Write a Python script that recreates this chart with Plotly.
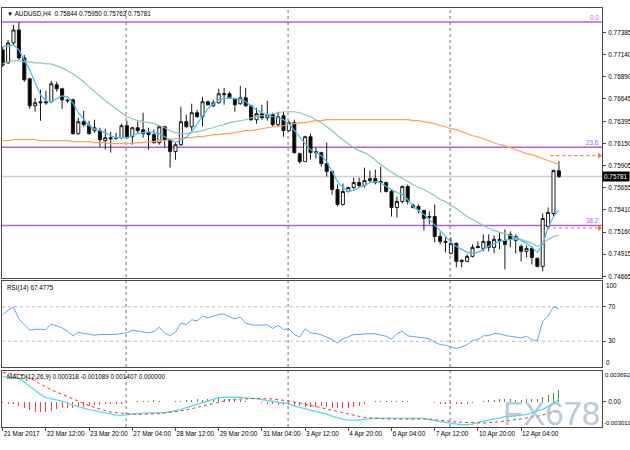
import plotly.graph_objects as go

# ---------------- data ----------------
symbol = "AUDUSD,H4"
bars = list(range(104))

opens = [0.77189, 0.77045, 0.77267, 0.77411, 0.77100, 0.76867, 0.76567, 0.76612, 0.76612, 0.76612,
         0.76801, 0.76756, 0.76630, 0.76634, 0.76257, 0.76390, 0.76345, 0.76290, 0.76290, 0.76179,
         0.76212, 0.76212, 0.76212, 0.76345, 0.76223, 0.76323, 0.76301, 0.76268, 0.76246, 0.76157,
         0.76334, 0.76190, 0.76057, 0.76134, 0.76390, 0.76334, 0.76490, 0.76445, 0.76612, 0.76567,
         0.76601, 0.76690, 0.76701, 0.76645, 0.76590, 0.76656, 0.76567, 0.76412, 0.76479, 0.76434,
         0.76468, 0.76357, 0.76456, 0.76290, 0.76379, 0.76035, 0.75946, 0.76223, 0.76057, 0.76046,
         0.75924, 0.75835, 0.75635, 0.75469, 0.75613, 0.75657, 0.75713, 0.75679, 0.75735, 0.75757,
         0.75724, 0.75713, 0.75613, 0.75435, 0.75502, 0.75668, 0.75457, 0.75446, 0.75402, 0.75324,
         0.75335, 0.75113, 0.75058, 0.74925, 0.75036, 0.74847, 0.74836, 0.74891, 0.75002, 0.74980,
         0.75058, 0.74991, 0.75080, 0.75069, 0.75136, 0.75069, 0.75002, 0.74947, 0.74980, 0.74869,
         0.74780, 0.75224, 0.75369, 0.75844]
highs = [0.77222, 0.77300, 0.77467, 0.77500, 0.77134, 0.76878, 0.76656, 0.76745, 0.76734, 0.76845,
         0.76834, 0.76767, 0.76645, 0.76645, 0.76434, 0.76512, 0.76401, 0.76412, 0.76323, 0.76312,
         0.76279, 0.76268, 0.76368, 0.76401, 0.76334, 0.76390, 0.76490, 0.76323, 0.76301, 0.76345,
         0.76345, 0.76201, 0.76157, 0.76556, 0.76468, 0.76590, 0.76523, 0.76667, 0.76623, 0.76634,
         0.76756, 0.76767, 0.76723, 0.76656, 0.76789, 0.76767, 0.76579, 0.76545, 0.76579, 0.76623,
         0.76490, 0.76501, 0.76501, 0.76401, 0.76412, 0.76046, 0.76234, 0.76257, 0.76101, 0.76057,
         0.76157, 0.75846, 0.75691, 0.75702, 0.75668, 0.75768, 0.75768, 0.75879, 0.75846, 0.75857,
         0.75890, 0.75724, 0.75635, 0.75557, 0.75679, 0.75691, 0.75480, 0.75469, 0.75413, 0.75391,
         0.75469, 0.75158, 0.75102, 0.75102, 0.75047, 0.74858, 0.74914, 0.75025, 0.75058, 0.75136,
         0.75136, 0.75124, 0.75158, 0.75191, 0.75169, 0.75136, 0.75025, 0.75013, 0.75002, 0.74880,
         0.75369, 0.75435, 0.75857, 0.75950]
lows = [0.77000, 0.77034, 0.77245, 0.77078, 0.76834, 0.76534, 0.76501, 0.76401, 0.76579, 0.76601,
        0.76723, 0.76534, 0.76601, 0.76246, 0.76246, 0.76334, 0.76246, 0.76268, 0.76112, 0.76079,
        0.76046, 0.76190, 0.76201, 0.76201, 0.76134, 0.76257, 0.76212, 0.76079, 0.76146, 0.76134,
        0.76101, 0.75879, 0.75968, 0.76123, 0.76323, 0.76290, 0.76434, 0.76334, 0.76567, 0.76556,
        0.76590, 0.76579, 0.76645, 0.76501, 0.76579, 0.76556, 0.76401, 0.76368, 0.76412, 0.76401,
        0.76334, 0.76334, 0.76223, 0.76279, 0.76035, 0.75924, 0.75946, 0.75968, 0.75979, 0.75890,
        0.75779, 0.75580, 0.75446, 0.75457, 0.75602, 0.75635, 0.75657, 0.75657, 0.75713, 0.75691,
        0.75602, 0.75602, 0.75335, 0.75324, 0.75480, 0.75469, 0.75424, 0.75369, 0.75180, 0.75247,
        0.75047, 0.75025, 0.74936, 0.74914, 0.74769, 0.74769, 0.74825, 0.74880, 0.74980, 0.74947,
        0.74947, 0.74925, 0.74969, 0.74747, 0.74991, 0.74925, 0.74836, 0.74880, 0.74803, 0.74769,
        0.74725, 0.75191, 0.75335, 0.75763]
closes = [0.77022, 0.77267, 0.77411, 0.77100, 0.76856, 0.76567, 0.76601, 0.76601, 0.76601, 0.76812,
          0.76756, 0.76634, 0.76623, 0.76257, 0.76390, 0.76357, 0.76257, 0.76323, 0.76190, 0.76212,
          0.76201, 0.76206, 0.76345, 0.76212, 0.76323, 0.76290, 0.76257, 0.76246, 0.76157, 0.76334,
          0.76190, 0.76057, 0.76134, 0.76390, 0.76334, 0.76490, 0.76445, 0.76612, 0.76579, 0.76601,
          0.76701, 0.76701, 0.76656, 0.76579, 0.76656, 0.76567, 0.76412, 0.76479, 0.76434, 0.76468,
          0.76357, 0.76445, 0.76290, 0.76379, 0.76046, 0.75946, 0.76223, 0.76046, 0.76046, 0.75924,
          0.75835, 0.75635, 0.75469, 0.75613, 0.75657, 0.75713, 0.75679, 0.75735, 0.75757, 0.75713,
          0.75713, 0.75613, 0.75435, 0.75502, 0.75668, 0.75502, 0.75435, 0.75413, 0.75313, 0.75335,
          0.75113, 0.75058, 0.75047, 0.75036, 0.74836, 0.74836, 0.74891, 0.74991, 0.74991, 0.75058,
          0.74991, 0.75080, 0.75069, 0.75025, 0.75080, 0.75113, 0.74947, 0.74980, 0.74880, 0.74780,
          0.75313, 0.75380, 0.75846, 0.75781]

ma_fast = [0.77222, 0.77233, 0.77245, 0.77189, 0.77078, 0.76967, 0.76823, 0.76690, 0.76623, 0.76612,
           0.76645, 0.76678, 0.76667, 0.76601, 0.76490, 0.76412, 0.76345, 0.76312, 0.76290, 0.76268,
           0.76234, 0.76212, 0.76212, 0.76212, 0.76234, 0.76257, 0.76268, 0.76279, 0.76268, 0.76257,
           0.76223, 0.76190, 0.76157, 0.76190, 0.76212, 0.76279, 0.76368, 0.76445, 0.76534, 0.76590,
           0.76634, 0.76645, 0.76656, 0.76645, 0.76645, 0.76612, 0.76567, 0.76523, 0.76490, 0.76468,
           0.76445, 0.76434, 0.76412, 0.76368, 0.76290, 0.76212, 0.76146, 0.76079, 0.76046, 0.76012,
           0.75946, 0.75835, 0.75724, 0.75657, 0.75613, 0.75624, 0.75657, 0.75679, 0.75713, 0.75724,
           0.75713, 0.75668, 0.75635, 0.75602, 0.75580, 0.75524, 0.75446, 0.75402, 0.75358, 0.75302,
           0.75235, 0.75169, 0.75113, 0.75047, 0.75002, 0.74969, 0.74936, 0.74925, 0.74936, 0.74969,
           0.75002, 0.75036, 0.75058, 0.75069, 0.75080, 0.75091, 0.75069, 0.75036, 0.74991, 0.74936,
           0.75025, 0.75213, 0.75335, 0.75402]
ma_mid = [0.77034, 0.77056, 0.77067, 0.77067, 0.77056, 0.77056, 0.77045, 0.77045, 0.77034, 0.77034,
          0.77011, 0.76989, 0.76956, 0.76923, 0.76878, 0.76834, 0.76778, 0.76723, 0.76667, 0.76623,
          0.76579, 0.76534, 0.76490, 0.76445, 0.76423, 0.76401, 0.76390, 0.76379, 0.76368, 0.76345,
          0.76323, 0.76290, 0.76268, 0.76257, 0.76257, 0.76268, 0.76279, 0.76290, 0.76312, 0.76323,
          0.76345, 0.76357, 0.76379, 0.76390, 0.76401, 0.76412, 0.76434, 0.76445, 0.76456, 0.76468,
          0.76479, 0.76490, 0.76501, 0.76501, 0.76501, 0.76490, 0.76468, 0.76445, 0.76412, 0.76379,
          0.76334, 0.76290, 0.76234, 0.76190, 0.76146, 0.76101, 0.76068, 0.76046, 0.76012, 0.75957,
          0.75913, 0.75868, 0.75824, 0.75790, 0.75757, 0.75724, 0.75691, 0.75657, 0.75635, 0.75602,
          0.75568, 0.75524, 0.75502, 0.75457, 0.75424, 0.75380, 0.75335, 0.75302, 0.75269, 0.75235,
          0.75202, 0.75180, 0.75158, 0.75147, 0.75124, 0.75102, 0.75080, 0.75058, 0.75036, 0.75002,
          0.75036, 0.75080, 0.75113, 0.75124]
ma_slow = [0.76179, 0.76179, 0.76190, 0.76190, 0.76190, 0.76190, 0.76190, 0.76179, 0.76179, 0.76179,
           0.76179, 0.76179, 0.76179, 0.76168, 0.76168, 0.76168, 0.76168, 0.76157, 0.76157, 0.76157,
           0.76146, 0.76146, 0.76146, 0.76146, 0.76146, 0.76157, 0.76157, 0.76168, 0.76168, 0.76179,
           0.76179, 0.76190, 0.76201, 0.76201, 0.76212, 0.76212, 0.76223, 0.76223, 0.76234, 0.76246,
           0.76246, 0.76257, 0.76257, 0.76268, 0.76279, 0.76290, 0.76290, 0.76301, 0.76312, 0.76323,
           0.76334, 0.76334, 0.76345, 0.76357, 0.76368, 0.76379, 0.76379, 0.76390, 0.76401, 0.76401,
           0.76412, 0.76412, 0.76412, 0.76412, 0.76412, 0.76412, 0.76412, 0.76412, 0.76412, 0.76412,
           0.76412, 0.76412, 0.76412, 0.76412, 0.76412, 0.76412, 0.76401, 0.76401, 0.76390, 0.76379,
           0.76368, 0.76345, 0.76334, 0.76312, 0.76301, 0.76279, 0.76257, 0.76234, 0.76223, 0.76201,
           0.76179, 0.76157, 0.76134, 0.76123, 0.76101, 0.76079, 0.76057, 0.76035, 0.76024, 0.76001,
           0.75979, 0.75957, 0.75935, 0.75913]

rsi = [61, 66, 69.6, 56, 49.4, 42.8, 44, 44, 43.6, 50,
       47.5, 45.5, 41.7, 36.2, 40.5, 38.9, 38.2, 37, 37.8, 37.8,
       37.8, 37.8, 39, 39.7, 42.8, 41.7, 40.9, 39.7, 41.3, 46.3,
       39.3, 36.6, 40.5, 51, 49.4, 54.9, 53.7, 59.1, 57.2, 59.1,
       61, 61.8, 58.4, 56, 58, 51, 49, 48.6, 48.6, 49,
       44.8, 48.6, 43.6, 44.4, 37.8, 34.7, 44.4, 39.7, 38.9, 37.4,
       34.7, 31.9, 28, 33, 35, 37.8, 37.8, 38.6, 38.9, 38.6,
       37, 35.8, 32.3, 38.6, 41.7, 36.2, 35.4, 35, 33.9, 32.7,
       28.8, 26.1, 25.3, 23.4, 21.5, 23.4, 26.1, 30.8, 31.9, 36.2,
       36.6, 38.9, 38.6, 36.6, 35.8, 35.4, 33.9, 35.8, 31.9, 30.5,
       53.3, 59, 70.4, 67.4775]

macd_main = [0.00301, 0.00297, 0.00293, 0.00281, 0.00237, 0.00185, 0.00133, 0.00089, 0.00050, 0.00038,
             0.00026, 0.00010, -0.00014, -0.00042, -0.00058, -0.00078, -0.00094, -0.00106, -0.00118, -0.00134,
             -0.00150, -0.00158, -0.00162, -0.00158, -0.00150, -0.00142, -0.00134, -0.00130, -0.00126, -0.00130,
             -0.00130, -0.00122, -0.00106, -0.00090, -0.00070, -0.00054, -0.00034, -0.00018, 0.00002, 0.00026,
             0.00050, 0.00054, 0.00058, 0.00054, 0.00054, 0.00050, 0.00046, 0.00038, 0.00026, 0.00014,
             0.00006, -0.00006, -0.00014, -0.00022, -0.00050, -0.00066, -0.00082, -0.00098, -0.00110, -0.00122,
             -0.00146, -0.00170, -0.00190, -0.00206, -0.00218, -0.00222, -0.00218, -0.00210, -0.00198, -0.00194,
             -0.00194, -0.00194, -0.00194, -0.00194, -0.00194, -0.00194, -0.00194, -0.00198, -0.00198, -0.00210,
             -0.00226, -0.00238, -0.00246, -0.00258, -0.00266, -0.00274, -0.00274, -0.00266, -0.00246, -0.00230,
             -0.00218, -0.00206, -0.00194, -0.00178, -0.00174, -0.00170, -0.00162, -0.00150, -0.00130, -0.00114,
             -0.00090, -0.00058, -0.00014, 0.000318]
macd_signal = [0.00349, 0.00345, 0.00337, 0.00329, 0.00309, 0.00285, 0.00253, 0.00213, 0.00177, 0.00145,
               0.00117, 0.00089, 0.00058, 0.00030, 0.00002, -0.00022, -0.00046, -0.00066, -0.00086, -0.00106,
               -0.00122, -0.00130, -0.00138, -0.00142, -0.00146, -0.00150, -0.00150, -0.00146, -0.00146, -0.00142,
               -0.00134, -0.00126, -0.00118, -0.00106, -0.00098, -0.00082, -0.00066, -0.00046, -0.00030, -0.00014,
               0.00002, 0.00014, 0.00026, 0.00030, 0.00034, 0.00038, 0.00042, 0.00042, 0.00038, 0.00038,
               0.00034, 0.00026, 0.00022, 0.00010, -0.00002, -0.00014, -0.00026, -0.00042, -0.00054, -0.00070,
               -0.00086, -0.00102, -0.00118, -0.00134, -0.00150, -0.00162, -0.00174, -0.00186, -0.00194, -0.00202,
               -0.00202, -0.00206, -0.00206, -0.00206, -0.00202, -0.00202, -0.00198, -0.00198, -0.00202, -0.00206,
               -0.00214, -0.00218, -0.00226, -0.00234, -0.00242, -0.00246, -0.00250, -0.00254, -0.00254, -0.00254,
               -0.00250, -0.00246, -0.00238, -0.00230, -0.00222, -0.00214, -0.00206, -0.00198, -0.00186, -0.00174,
               -0.00158, -0.00142, -0.00126, -0.001089]
macd_hist = [-0.00012, -0.00020, -0.00030, -0.00045, -0.00072, -0.00100, -0.00120, -0.00124, -0.00127, -0.00107,
             -0.00091, -0.00079, -0.00072, -0.00072, -0.00060, -0.00056, -0.00048, -0.00040, -0.00032, -0.00028,
             -0.00028, -0.00028, -0.00024, -0.00016, -0.00004, 0.00008, 0.00016, 0.00016, 0.00020, 0.00012,
             0.00004, 0.00004, 0.00012, 0.00016, 0.00028, 0.00028, 0.00032, 0.00028, 0.00032, 0.00040,
             0.00048, 0.00040, 0.00032, 0.00024, 0.00020, 0.00012, 0.00004, -0.00004, -0.00012, -0.00024,
             -0.00028, -0.00032, -0.00036, -0.00032, -0.00048, -0.00052, -0.00056, -0.00056, -0.00056, -0.00052,
             -0.00060, -0.00068, -0.00072, -0.00072, -0.00068, -0.00060, -0.00044, -0.00024, -0.00004, 0.00008,
             0.00008, 0.00012, 0.00012, 0.00012, 0.00008, 0.00008, 0.00004, 0.00000, 0.00004, -0.00004,
             -0.00012, -0.00020, -0.00020, -0.00024, -0.00024, -0.00028, -0.00024, -0.00012, 0.00004, 0.00012,
             0.00020, 0.00028, 0.00032, 0.00032, 0.00032, 0.00028, 0.00028, 0.00032, 0.00036, 0.00040,
             0.00060, 0.00084, 0.00110, 0.001407]
macd_extra = 0.0

fib_levels = [0.77500, 0.76105, 0.75235]
fib_labels = ["0.0", "23.6", "38.2"]
fib_marks = [0.76012, 0.75207]      # dotted arrow price marks
fib_mark_start = [101.4, 100.8]

price_ticks = [0.77385, 0.77140, 0.76890, 0.76645, 0.76395, 0.76150,
               0.75905, 0.75655, 0.75410, 0.75160, 0.74915, 0.74665]
rsi_levels = [70, 30]
rsi_edges = [100, 0]
macd_edges = [0.003692, -0.003011]

time_tick_bars = [0, 8, 16, 24, 32, 40, 48, 56, 64, 72, 80, 88, 96]
time_tick_labels = ["21 Mar 2017", "22 Mar 12:00", "23 Mar 20:00", "27 Mar 04:00", "28 Mar 12:00",
                    "29 Mar 20:00", "31 Mar 04:00", "3 Apr 12:00", "4 Apr 20:00", "6 Apr 04:00",
                    "7 Apr 12:00", "10 Apr 20:00", "12 Apr 04:00"]
week_separators = [23, 53, 83]

# ---------------- layout geometry (pixels -> paper) ----------------
W, H = 630, 450
def px_x(x):
    return x / W
def px_y(y):
    return 1 - y / H

XDOM = [px_x(2), px_x(602)]
XRANGE = [-0.13, 110.98]
FONT = "Liberation Sans, Arial, sans-serif"
AXC = "#4a4a4a"

fig = go.Figure()

fig.add_trace(go.Candlestick(
    x=bars, open=opens, high=highs, low=lows, close=closes,
    xaxis="x", yaxis="y", whiskerwidth=0,
    increasing=dict(line=dict(color="#1a1a1a", width=1), fillcolor="#ffffff"),
    decreasing=dict(line=dict(color="#1a1a1a", width=1), fillcolor="#000000"),
    showlegend=False, hoverinfo="skip"))

fig.add_trace(go.Scatter(x=bars, y=ma_slow, mode="lines", xaxis="x", yaxis="y",
                         line=dict(color="#ffa347", width=1.2), showlegend=False, hoverinfo="skip"))
fig.add_trace(go.Scatter(x=bars, y=ma_mid, mode="lines", xaxis="x", yaxis="y",
                         line=dict(color="#8cc3c3", width=1.2), showlegend=False, hoverinfo="skip"))
fig.add_trace(go.Scatter(x=bars, y=ma_fast, mode="lines", xaxis="x", yaxis="y",
                         line=dict(color="#3cc3f0", width=1.2), showlegend=False, hoverinfo="skip"))

for lvl, st in zip(fib_marks, fib_mark_start):
    fig.add_trace(go.Scatter(x=[st, 110.5], y=[lvl, lvl], mode="lines", xaxis="x", yaxis="y",
                             line=dict(color="#ff6a2a", width=1, dash="dot"),
                             showlegend=False, hoverinfo="skip"))
    fig.add_trace(go.Scatter(x=[110.5], y=[lvl], mode="markers", xaxis="x", yaxis="y",
                             marker=dict(symbol="triangle-right", size=5, color="#ff6a2a"),
                             showlegend=False, hoverinfo="skip"))

fig.add_trace(go.Scatter(x=bars, y=rsi, mode="lines", xaxis="x2", yaxis="y2",
                         line=dict(color="#5aa8f2", width=1), showlegend=False, hoverinfo="skip"))

hist_colors = ["#3c9c3c" if v > 0 else "#ff3c3c" for v in macd_hist]
fig.add_trace(go.Bar(x=bars, y=macd_hist, width=0.2, xaxis="x3", yaxis="y3",
                     marker=dict(color=hist_colors, line=dict(width=0)),
                     showlegend=False, hoverinfo="skip"))
fig.add_trace(go.Scatter(x=bars, y=macd_main, mode="lines", xaxis="x3", yaxis="y3",
                         line=dict(color="#45e3ef", width=1.3), showlegend=False, hoverinfo="skip"))
fig.add_trace(go.Scatter(x=bars, y=macd_signal, mode="lines", xaxis="x3", yaxis="y3",
                         line=dict(color="#ff2a2a", width=1, dash="dot"), showlegend=False, hoverinfo="skip"))

shapes = []
for lvl in fib_levels:
    shapes.append(dict(type="line", xref="x domain", yref="y", x0=0, x1=1, y0=lvl, y1=lvl,
                       line=dict(color="#b060dc", width=1.5), layer="below"))
shapes.append(dict(type="line", xref="x domain", yref="y", x0=0, x1=1, y0=closes[-1], y1=closes[-1],
                   line=dict(color="#cfcfcf", width=1.5), layer="below"))
for lvl in rsi_levels:
    shapes.append(dict(type="line", xref="x2 domain", yref="y2", x0=0, x1=1, y0=lvl, y1=lvl,
                       line=dict(color="#b4b4b4", width=1, dash="dot"), layer="below"))
for b in week_separators:
    shapes.append(dict(type="line", xref="x", yref="paper", x0=b - 0.15, x1=b - 0.15,
                       y0=px_y(427), y1=px_y(8),
                       line=dict(color="#707070", width=1, dash="dot"), layer="below"))

annotations = []
lbl_font = dict(family=FONT, size=6.4, color="#000000")
edge_font = dict(family=FONT, size=6.0, color="#000000")
small_font = dict(family=FONT, size=6.3, color="#000000")
annotations.append(dict(xref="paper", yref="paper", x=px_x(551), y=px_y(413), xanchor="center", yanchor="middle",
                        text="FX678", showarrow=False,
                        font=dict(family=FONT, size=33, color="rgba(168,186,210,0.8)")))
annotations.append(dict(xref="paper", yref="paper", x=px_x(5), y=px_y(14), xanchor="left", yanchor="middle",
                        text=f"\u25bc {symbol}  {opens[-1]:.5f} {highs[-1]:.5f} {lows[-1]:.5f} {closes[-1]:.5f}",
                        showarrow=False, font=small_font))
annotations.append(dict(xref="paper", yref="paper", x=px_x(5), y=px_y(288), xanchor="left", yanchor="middle",
                        text=f"RSI(14) {rsi[-1]:.4f}", showarrow=False, font=small_font))
annotations.append(dict(xref="paper", yref="paper", x=px_x(5), y=px_y(377), xanchor="left", yanchor="middle",
                        text=f"MACD(12,26,9) {macd_main[-1]:.6f} {macd_signal[-1]:.6f} {macd_hist[-1]:.6f} {macd_extra:.6f}",
                        showarrow=False, font=small_font))
for lvl, txt in zip(fib_levels, fib_labels):
    annotations.append(dict(xref="paper", yref="y", x=px_x(600), y=lvl, xanchor="right", yanchor="bottom",
                            text=txt, showarrow=False, borderpad=0,
                            font=dict(family=FONT, size=6.3, color="#b060dc")))
annotations.append(dict(xref="paper", yref="y", x=px_x(602), y=closes[-1], xanchor="left", yanchor="middle",
                        text=f"{closes[-1]:.5f}", showarrow=False, bgcolor="#000000", borderpad=1,
                        font=dict(family=FONT, size=6.4, color="#ffffff")))
annotations.append(dict(xref="paper", yref="y2", x=px_x(605), y=rsi_edges[0], xanchor="left", yanchor="top",
                        text=str(rsi_edges[0]), showarrow=False, borderpad=0, font=lbl_font))
annotations.append(dict(xref="paper", yref="y2", x=px_x(605), y=rsi_edges[1], xanchor="left", yanchor="bottom",
                        text=str(rsi_edges[1]), showarrow=False, borderpad=0, font=lbl_font))
annotations.append(dict(xref="paper", yref="y3", x=px_x(604), y=macd_edges[0], xanchor="left", yanchor="top",
                        text=f"{macd_edges[0]:.6f}", showarrow=False, borderpad=0, font=edge_font))
annotations.append(dict(xref="paper", yref="y3", x=px_x(603), y=macd_edges[1], xanchor="left", yanchor="bottom",
                        text=f"{macd_edges[1]:.6f}", showarrow=False, borderpad=0, font=edge_font))

common_x = dict(domain=XDOM, range=XRANGE, showgrid=False, zeroline=False, showline=True,
                mirror=True, linecolor=AXC, linewidth=1, fixedrange=True)
common_y = dict(side="right", showgrid=False, zeroline=False, showline=True, mirror=True,
                linecolor=AXC, linewidth=1, ticks="outside", ticklen=3, tickcolor=AXC,
                tickfont=lbl_font, fixedrange=True, automargin=False, ticklabelstandoff=1)

fig.update_layout(
    width=W, height=H, margin=dict(l=0, r=0, t=0, b=0, autoexpand=False),
    paper_bgcolor="white", plot_bgcolor="white",
    font=dict(family=FONT, size=7, color="#000"),
    showlegend=False, boxgap=0.25, boxgroupgap=0.25, bargap=0,
    xaxis=dict(**common_x, anchor="y", showticklabels=False, ticks="",
               rangeslider=dict(visible=False)),
    xaxis2=dict(**common_x, anchor="y2", showticklabels=False, ticks=""),
    xaxis3=dict(**common_x, anchor="y3", tickmode="array", tickvals=time_tick_bars,
                ticktext=time_tick_labels, ticks="outside", ticklen=3, tickcolor=AXC,
                ticklabelposition="outside right", tickangle=0, tickfont=lbl_font,
                automargin=False),
    yaxis=dict(**common_y, anchor="x", domain=[px_y(278), px_y(8)],
               range=[0.746505, 0.776554], tickmode="array", tickvals=price_ticks,
               ticktext=[f"{v:.5f}" for v in price_ticks]),
    yaxis2=dict(**common_y, anchor="x2", domain=[px_y(367), px_y(281)],
                range=[0, 100], tickmode="array", tickvals=rsi_levels,
                ticktext=[str(v) for v in rsi_levels]),
    yaxis3=dict(**common_y, anchor="x3", domain=[px_y(427), px_y(371)],
                range=[macd_edges[1], macd_edges[0]], tickmode="array", tickvals=[0],
                ticktext=["0.00"]),
    shapes=shapes, annotations=annotations,
)

fig.write_html("out.html", config={"displayModeBar": False, "staticPlot": True},
               post_script="document.body.style.margin='0px';document.body.style.overflow='hidden';")
